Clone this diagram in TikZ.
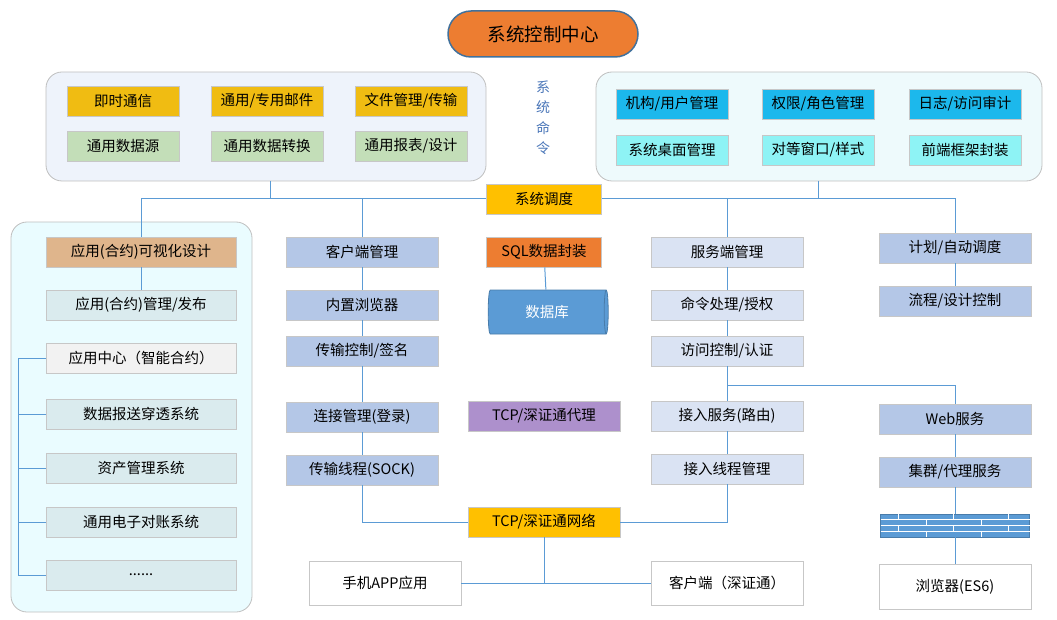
\documentclass[tikz,border=0pt]{standalone}
\usepackage{fontspec}
\setmainfont{Noto Sans CJK SC}
\usetikzlibrary{shapes.geometric}
\definecolor{ln}{HTML}{5B9BD5}
\definecolor{yel}{HTML}{F0BC12}
\definecolor{gold}{HTML}{FFC000}
\definecolor{grn}{HTML}{C3DEB8}
\definecolor{cy}{HTML}{1CB8EC}
\definecolor{lcy}{HTML}{8EF3F5}
\definecolor{org}{HTML}{ED7D31}
\definecolor{blu}{HTML}{B4C7E7}
\definecolor{lblu}{HTML}{DAE3F3}
\definecolor{tea}{HTML}{DAEBEE}
\definecolor{tan}{HTML}{DFB58C}
\definecolor{pur}{HTML}{AD90CC}
\definecolor{c1}{HTML}{EEF3FB}
\definecolor{c2}{HTML}{EEFAFC}
\definecolor{c3}{HTML}{EAFCFF}
\definecolor{ttl}{HTML}{41719C}
\definecolor{vtx}{HTML}{4A76B8}
\tikzset{
 box/.style={draw=black!22, line width=0.8pt, minimum height=30pt, inner sep=0pt, font=\fontsize{14.5}{17}\selectfont},
 w112/.style={box, minimum width=112pt},
 w152/.style={box, minimum width=152pt},
 w190/.style={box, minimum width=190pt},
 w115/.style={box, minimum width=115pt},
 cont/.style={draw=black!25, line width=0.8pt, rounded corners=16pt},
 conn/.style={draw=ln, line width=1pt},
}
\begin{document}
\begin{tikzpicture}[x=1pt,y=-1pt]
\useasboundingbox (0,0) rectangle (1057,620);
% containers
\draw[cont, fill=c1] (46,72) rectangle (486,181);
\draw[cont, fill=c2] (596,72) rectangle (1042,181);
\draw[cont, fill=c3] (11,222) rectangle (252,612);
\coordinate (lc) at (270,181);
\coordinate (rc) at (818,181);
% title
\node[draw=ttl, line width=1.5pt, fill=org, rounded corners=23pt, minimum width=190pt, minimum height=46pt, font=\fontsize{18.5}{22}\selectfont] (title) at (543,34) {系统控制中心};
\node[text=vtx, align=center, font=\fontsize{14}{20.5}\selectfont] (cmd) at (543,118) {系\\统\\命\\令};
% top left
\node[w112, fill=yel] (a1) at (123,101) {即时通信};
\node[w112, fill=yel] (a2) at (267,101) {通用/专用邮件};
\node[w112, fill=yel] (a3) at (411,101) {文件管理/传输};
\node[w112, fill=grn] (a4) at (123,146) {通用数据源};
\node[w112, fill=grn] (a5) at (267,146) {通用数据转换};
\node[w112, fill=grn] (a6) at (411,146) {通用报表/设计};
% top right
\node[w112, fill=cy] (b1) at (672,104) {机构/用户管理};
\node[w112, fill=cy] (b2) at (818,104) {权限/角色管理};
\node[w112, fill=cy] (b3) at (965,104) {日志/访问审计};
\node[w112, fill=lcy] (b4) at (672,150) {系统桌面管理};
\node[w112, fill=lcy] (b5) at (818,150) {对等窗口/样式};
\node[w112, fill=lcy] (b6) at (965,150) {前端框架封装};
% dispatch
\node[w115, fill=gold] (sch) at (544,199) {系统调度};
% left column
\node[w190, fill=tan] (l1) at (141,252) {应用(合约)可视化设计};
\node[w190, fill=tea] (l2) at (141,305) {应用(合约)管理/发布};
\node[w190, fill=black!5] (l3) at (141,358) {应用中心（智能合约）};
\node[w190, fill=tea] (l4) at (141,414) {数据报送穿透系统};
\node[w190, fill=tea] (l5) at (141,468) {资产管理系统};
\node[w190, fill=tea] (l6) at (141,522) {通用电子对账系统};
\node[w190, fill=tea] (l7) at (141,575) {......};
% middle column
\node[w152, fill=blu] (m1) at (362,252) {客户端管理};
\node[w152, fill=blu] (m2) at (362,305) {内置浏览器};
\node[w152, fill=blu] (m3) at (362,351) {传输控制/签名};
\node[w152, fill=blu] (m4) at (362,417) {连接管理(登录)};
\node[w152, fill=blu] (m5) at (362,470) {传输线程(SOCK)};
% center
\node[w115, fill=org] (sql) at (544,252) {SQL数据封装};
\node[cylinder, draw=ln!80!black, line width=0.8pt, fill=ln, minimum width=44pt, minimum height=120pt, shape aspect=0.3, inner sep=0pt, text=white, font=\fontsize{14.5}{17}\selectfont] (db) at (547,312) {数据库};
\node[w152, fill=pur] (prx) at (544,416) {TCP/深证通代理};
\node[w152, fill=gold] (net) at (544,522) {TCP/深证通网络};
% server column
\node[w152, fill=lblu] (s1) at (727,252) {服务端管理};
\node[w152, fill=lblu] (s2) at (727,305) {命令处理/授权};
\node[w152, fill=lblu] (s3) at (727,351) {访问控制/认证};
\node[w152, fill=lblu] (s4) at (727,416) {接入服务(路由)};
\node[w152, fill=lblu] (s5) at (727,469) {接入线程管理};
% right column
\node[w152, fill=blu] (r1) at (955,248) {计划/自动调度};
\node[w152, fill=blu] (r2) at (955,301) {流程/设计控制};
\node[w152, fill=blu] (r3) at (955,419) {Web服务};
\node[w152, fill=blu] (r4) at (955,472) {集群/代理服务};
% firewall
\node[draw=ln!80!black, fill=ln, minimum width=149pt, minimum height=23pt, inner sep=0pt] (fw) at (955,525.5) {};
\foreach \yy in {519.5,525.5,531.5} \draw[white, line width=1pt] (880.5,\yy) -- (1029.5,\yy);
\foreach \xx in {898,953,1008} {\draw[white, line width=1pt] (\xx,514) -- (\xx,519.5); \draw[white, line width=1pt] (\xx,525.5) -- (\xx,531.5);}
\foreach \xx in {926,981} {\draw[white, line width=1pt] (\xx,519.5) -- (\xx,525.5); \draw[white, line width=1pt] (\xx,531.5) -- (\xx,537);}
\node[w152, fill=white, minimum height=45pt] (br) at (955,586.5) {浏览器(ES6)};
% bottom
\node[w152, fill=white, minimum height=44pt] (app) at (385,583) {手机APP应用};
\node[w152, fill=white, minimum height=44pt] (cli) at (727,583) {客户端（深证通）};
% connectors
\draw[conn] (lc) -- (270,199) (rc) -- (818,199);
\draw[conn] (l1.north) -- (141,199) -- (sch.west);
\draw[conn] (m1.north) -- (362,199);
\draw[conn] (sch.east) -- (955,199) -- (r1.north);
\draw[conn] (s1.north) -- (727,199);
\draw[conn] (l1) -- (l2);
\draw[conn] (l3.west) -- (18,358) -- (18,575) -- (l7.west);
\foreach \n/\yy in {l4/414,l5/468,l6/522} \draw[conn] (18,\yy) -- (\n.west);
\draw[conn] (m1) -- (m2);
\draw[conn] (m2) -- (m3);
\draw[conn] (m3) -- (m4);
\draw[conn] (m4) -- (m5);
\draw[conn] (m5) -- (362,522) -- (net.west);
\draw[conn] (sql) -- (db);
\draw[conn] (s1) -- (s2);
\draw[conn] (s2) -- (s3);
\draw[conn] (s3) -- (s4);
\draw[conn] (s4) -- (s5);
\draw[conn] (s5) -- (727,522) -- (net.east);
\draw[conn] (727,385) -- (955,385) -- (r3.north);
\draw[conn] (r1) -- (r2);
\draw[conn] (r3) -- (r4);
\draw[conn] (r4) -- (fw);
\draw[conn] (fw) -- (br);
\draw[conn] (net.south) -- (544,583);
\draw[conn] (app.east) -- (cli.west);
\end{tikzpicture}
\end{document}
